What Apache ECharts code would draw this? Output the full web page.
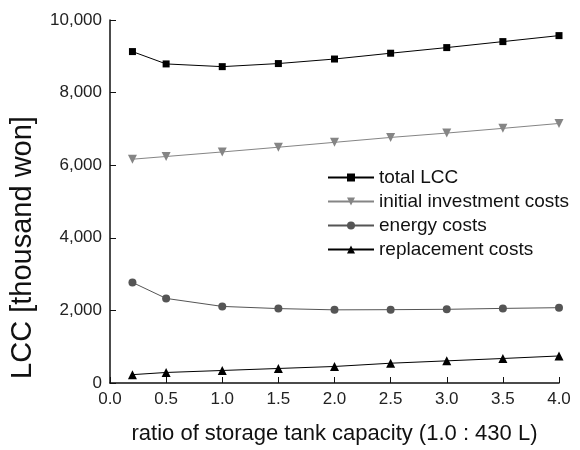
<!DOCTYPE html>
<html><head><meta charset="utf-8">
<script src="https://cdn.jsdelivr.net/npm/echarts@6/dist/echarts.min.js"></script>
<style>html,body{margin:0;padding:0;background:#fff}#c{width:580px;height:450px}</style>
</head><body><div id="c"></div>
<script>
const xValues = [0.2, 0.5, 1.0, 1.5, 2.0, 2.5, 3.0, 3.5, 4.0];
const totalLCC = [9130, 8790, 8715, 8800, 8925, 9085, 9240, 9405, 9570];
const initialCosts = [6165, 6240, 6365, 6495, 6630, 6765, 6885, 7015, 7150];
const energyCosts = [2770, 2330, 2110, 2050, 2015, 2020, 2030, 2055, 2075];
const replacementCosts = [230, 290, 345, 400, 455, 545, 610, 675, 745];
const seriesNames = ['total LCC', 'initial investment costs', 'energy costs', 'replacement costs'];

const font = 'Arial, "Liberation Sans", sans-serif';
function pairs(v){ return xValues.map((x,i)=>[x, v[i]]); }
const chart = echarts.init(document.getElementById('c'));
chart.setOption({
  animation:false,
  backgroundColor:'#fff',
  textStyle:{fontFamily:font},
  grid:{left:110, right:21, top:20, bottom:64},
  legend:{
    orient:'vertical', left:322, top:163, itemWidth:46, itemHeight:10, itemGap:5,
    textStyle:{fontSize:19, color:'#111', fontFamily:font},
    data:seriesNames
  },
  xAxis:{
    type:'value', min:0, max:4, interval:0.5,
    name:'ratio of storage tank capacity (1.0 : 430 L)', nameLocation:'middle', nameGap:40,
    nameTextStyle:{fontSize:22, color:'#111', fontFamily:font},
    axisLine:{show:true, lineStyle:{color:'#111', width:1.5}},
    axisTick:{show:true, inside:true, length:6, lineStyle:{color:'#111'}},
    axisLabel:{fontSize:17, color:'#222', margin:8, formatter:v=>v.toFixed(1)},
    splitLine:{show:false}
  },
  yAxis:{
    type:'value', min:0, max:10000, interval:2000,
    name:'LCC [thousand won]', nameLocation:'middle', nameGap:73,
    nameTextStyle:{fontSize:29, color:'#111', fontFamily:font, padding:[0, 92, 0, 0]},
    axisLine:{show:true, lineStyle:{color:'#111', width:1.5}},
    axisTick:{show:true, inside:true, length:6, lineStyle:{color:'#111'}},
    axisLabel:{fontSize:17, color:'#222', margin:8, formatter:v=>v.toLocaleString('en-US')},
    splitLine:{show:false}
  },
  series:[
    {name:seriesNames[0], type:'line', data:pairs(totalLCC), symbol:'rect', symbolSize:7,
     itemStyle:{color:'#000'}, lineStyle:{color:'#000', width:1}},
    {name:seriesNames[1], type:'line', data:pairs(initialCosts), symbol:'triangle', symbolRotate:180, symbolSize:9,
     itemStyle:{color:'#858585'}, lineStyle:{color:'#858585', width:1}},
    {name:seriesNames[2], type:'line', data:pairs(energyCosts), symbol:'circle', symbolSize:8,
     itemStyle:{color:'#555'}, lineStyle:{color:'#555', width:1}},
    {name:seriesNames[3], type:'line', data:pairs(replacementCosts), symbol:'triangle', symbolSize:9,
     itemStyle:{color:'#000'}, lineStyle:{color:'#000', width:1}}
  ]
});
</script></body></html>
